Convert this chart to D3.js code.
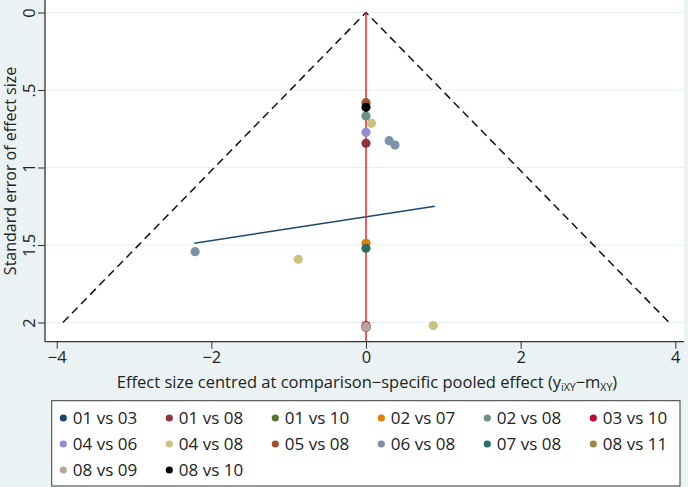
<!DOCTYPE html>
<html><head><meta charset="utf-8">
<script src="https://cdn.jsdelivr.net/npm/d3@7"></script>
<style>html,body{margin:0;padding:0;background:#eaf2f3;}svg{display:block;font-family:"Open Sans",sans-serif;}</style>
</head><body><svg id="c" width="688" height="487"></svg>
<script>
// ---- data ----
const categories = ["01 vs 03","01 vs 08","01 vs 10","02 vs 07","02 vs 08","03 vs 10","04 vs 06","04 vs 08","05 vs 08","06 vs 08","07 vs 08","08 vs 11","08 vs 09","08 vs 10"];
const colors = ["#1a476f","#90353b","#55752f","#e37e00","#6e8e84","#c10534","#938dd2","#cac27e","#a0522d","#7b92a8","#2d6d66","#9c8847","#bfa19c","#000000"];
// centred effect sizes and standard errors per comparison
const effects = [[0],[0],[0],[0],[0],[0],[0],[0.07,-0.876,0.87],[0],[0.30,0.375,-2.21],[0],[0],[0],[0]];
const stderrs = [[2.03],[0.844],[2.03],[1.489],[0.668],[2.02],[0.773],[0.715,1.592,2.02],[0.582],[0.827,0.855,1.543],[1.521],[2.03],[2.027],[0.612]];
// small-study regression line
const lineEffect = [-2.22, 0.89];
const lineSE = [1.489, 1.25];
// pseudo 95% CI funnel
const funnelSEmax = 2;
const xTicks = [-4,-2,0,2,4];
const yTicks = [0,0.5,1,1.5,2];
const yTickLabels = ["0",".5","1","1.5","2"];

const svg = d3.select("#c");
const L = 45, R = 684, T = 0, B = 341.7;
const x = d3.scaleLinear().domain([-4,4]).range([56.7,675.3]);
const y = d3.scaleLinear().domain([0,2]).range([12.5,322.5]);

svg.append("rect").attr("width",688).attr("height",487).attr("fill","#eaf2f3");
svg.append("rect").attr("x",L).attr("y",T).attr("width",R-L).attr("height",B-T).attr("fill","#ffffff");

// gridlines
svg.append("g").selectAll("line").data(yTicks).join("line")
  .attr("x1",L).attr("x2",R).attr("y1",d=>y(d)).attr("y2",d=>y(d))
  .attr("stroke","#e6eff1").attr("stroke-width",1.2);

// axes
const yAxis = d3.axisLeft(y).tickValues(yTicks).tickFormat((d,i)=>yTickLabels[i]).tickSize(7).tickPadding(4);
const gy = svg.append("g").attr("transform",`translate(${L},0)`).call(yAxis);
gy.select(".domain").attr("d",`M0,${T}V${B}`).attr("stroke","#333").attr("stroke-width",1.3);
gy.selectAll(".tick line").attr("stroke","#333");
gy.selectAll(".tick text").attr("font-size",16.5).attr("fill","#222").attr("font-family","Open Sans")
  .attr("transform","rotate(-90)").attr("x",0).attr("y",-10).attr("dy","0").attr("text-anchor","middle");

const xAxis = d3.axisBottom(x).tickValues(xTicks).tickFormat(d=>d<0?"\u2212"+Math.abs(d):d).tickSize(7).tickPadding(3);
const gx = svg.append("g").attr("transform",`translate(0,${B})`).call(xAxis);
gx.select(".domain").attr("d",`M${L},0H${R}`).attr("stroke","#333").attr("stroke-width",1.3);
gx.selectAll(".tick line").attr("stroke","#333");
gx.selectAll(".tick text").attr("font-size",16.5).attr("fill","#222").attr("font-family","Open Sans");

// axis titles
svg.append("text").attr("transform","translate(16,171) rotate(-90)").attr("text-anchor","middle")
  .attr("font-size",16).attr("fill","#222").text("Standard error of effect size");
const xt = svg.append("text").attr("x",367).attr("y",388).attr("text-anchor","middle").attr("font-size",16.5).attr("fill","#222");
xt.append("tspan").text("Effect size centred at comparison\u2212specific pooled effect (y");
xt.append("tspan").attr("font-size",10.5).attr("dy",3).text("iXY");
xt.append("tspan").attr("dy",-3).text("\u2212m");
xt.append("tspan").attr("font-size",10.5).attr("dy",3).text("XY");
xt.append("tspan").attr("dy",-3).text(")");

// funnel
const fl = [[-1.96*funnelSEmax,funnelSEmax],[0,0],[1.96*funnelSEmax,funnelSEmax]];
svg.append("path").attr("d",d3.line().x(d=>x(d[0])).y(d=>y(d[1]))(fl))
  .attr("fill","none").attr("stroke","#111").attr("stroke-width",1.5).attr("stroke-dasharray","8,5");

// regression line
svg.append("path").attr("d",d3.line().x(d=>x(d[0])).y(d=>y(d[1]))(lineEffect.map((e,i)=>[e,lineSE[i]])))
  .attr("fill","none").attr("stroke","#1a476f").attr("stroke-width",1.5);

// zero line
svg.append("line").attr("x1",x(0)).attr("x2",x(0)).attr("y1",y(0)).attr("y2",B)
  .attr("stroke","#e8262b").attr("stroke-width",1.5);

// points
categories.forEach((c,i)=>{
  svg.append("g").selectAll("circle").data(effects[i].map((e,j)=>[e,stderrs[i][j]])).join("circle")
    .attr("cx",d=>x(d[0])).attr("cy",d=>y(d[1])).attr("r",4.6).attr("fill",colors[i]);
});

// legend
svg.append("rect").attr("x",51.7).attr("y",400.7).attr("width",628.3).attr("height",85.3)
  .attr("fill","#fff").attr("stroke","#3a3a3a").attr("stroke-width",1);
const lg = svg.append("g").selectAll("g").data(categories).join("g")
  .attr("transform",(d,i)=>`translate(${63.3+(i%6)*106},${418+Math.floor(i/6)*26})`);
lg.append("circle").attr("r",3.6).attr("fill",(d,i)=>colors[i]);
lg.append("text").attr("x",9.5).attr("dy","0.35em").attr("font-size",17).attr("fill","#222").text(d=>d);
</script></body></html>
